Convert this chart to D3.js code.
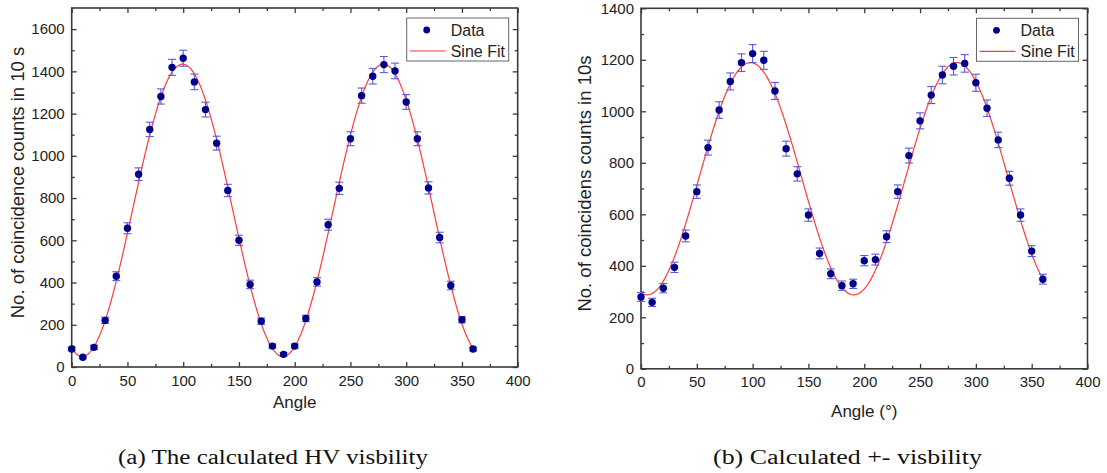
<!DOCTYPE html>
<html>
<head>
<meta charset="utf-8">
<script src="https://cdn.jsdelivr.net/npm/d3@7"></script>
<style>
  html, body { margin: 0; padding: 0; background: #fff; }
  svg { display: block; font-family: "Liberation Sans", Arial, sans-serif; }
  .frame { fill: none; stroke: #3a3a3a; stroke-width: 1.6; }
  .tick line { stroke: #3a3a3a; stroke-width: 1.3; }
  .tick text { fill: #222; font-size: 15px; }
  .domain { display: none; }
</style>
</head>
<body>
<div id="chart"></div>
<script>
// angles (deg) shared by both panels
const angles = [0, 10, 20, 30, 40, 50, 60, 70, 80, 90, 100, 110, 120, 130, 140, 150, 160, 170, 180,
  190, 200, 210, 220, 230, 240, 250, 260, 270, 280, 290, 300, 310, 320, 330, 340, 350, 360]

// (a) HV basis
const countsHV = [85, 46, 93, 221, 430, 657, 913, 1125, 1281, 1419, 1462, 1350, 1219, 1060, 836, 600, 391, 217, 99,
  60, 99, 230, 403, 674, 846, 1081, 1285, 1377, 1432, 1402, 1255, 1081, 848, 613, 386, 224, 85]
const errHV = [9, 7, 10, 15, 21, 26, 30, 34, 36, 38, 38, 37, 35, 33, 29, 24, 20, 15, 10,
  8, 10, 15, 20, 26, 29, 33, 36, 37, 38, 37, 35, 33, 29, 25, 20, 15, 9]
const fitHV = { y0: 742, amp: 692, xc: 99.5, period: 180 }

// (b) +/- basis
const countsPM = [279, 258, 313, 394, 516, 688, 859, 1005, 1116, 1189, 1224, 1198, 1079, 855, 757, 597, 448, 369, 323,
  330, 420, 424, 513, 688, 828, 963, 1063, 1141, 1175, 1186, 1111, 1012, 889, 740, 597, 457, 348]
const errPM = [17, 16, 18, 20, 23, 26, 29, 32, 33, 34, 35, 35, 33, 29, 28, 24, 21, 19, 18,
  18, 20, 21, 23, 26, 29, 31, 33, 34, 34, 34, 33, 32, 30, 27, 24, 21, 19]
const fitPM = { y0: 738, amp: 451, xc: 98, period: 185 }

const xMajor = [0, 50, 100, 150, 200, 250, 300, 350, 400]
const xMinor = [25, 75, 125, 175, 225, 275, 325, 375]
const yMajorHV = [0, 200, 400, 600, 800, 1000, 1200, 1400, 1600]
const yMinorHV = [100, 300, 500, 700, 900, 1100, 1300, 1500]
const yMajorPM = [0, 200, 400, 600, 800, 1000, 1200, 1400]
const yMinorPM = [100, 300, 500, 700, 900, 1100, 1300]
const legendItems = ['Data', 'Sine Fit']

const svg = d3.select('#chart').append('svg')
  .attr('width', 1107)
  .attr('height', 473)

const fmt = d3.format('d')

function panel({
  left, top, width, height,
  yMax, yMajor, yMinor,
  counts, errs, fit,
  yTitle, yTitleX, xTitle, xTitleY,
  caption, captionX, captionLen, fitLegendColor, fitLegendWidth
}) {
  const g = svg.append('g').attr('transform', `translate(${left},${top})`)
  const x = d3.scaleLinear().domain([0, 400]).range([0, width])
  const y = d3.scaleLinear().domain([0, yMax]).range([height, 0])

  // axes, ticks pointing inward
  g.append('g').attr('transform', `translate(0,${height})`)
    .call(d3.axisBottom(x).tickValues(xMajor).tickSize(-5).tickPadding(8).tickFormat(fmt))
  g.append('g').attr('transform', `translate(0,${height})`)
    .call(d3.axisBottom(x).tickValues(xMinor).tickSize(-3).tickFormat(''))
  g.append('g')
    .call(d3.axisTop(x).tickValues(xMajor).tickSize(-5).tickFormat(''))
  g.append('g')
    .call(d3.axisTop(x).tickValues(xMinor).tickSize(-3).tickFormat(''))
  g.append('g')
    .call(d3.axisLeft(y).tickValues(yMajor).tickSize(-5).tickPadding(7).tickFormat(fmt))
  g.append('g')
    .call(d3.axisLeft(y).tickValues(yMinor).tickSize(-3).tickFormat(''))
  g.append('g').attr('transform', `translate(${width},0)`)
    .call(d3.axisRight(y).tickValues(yMajor).tickSize(-5).tickFormat(''))
  g.append('g').attr('transform', `translate(${width},0)`)
    .call(d3.axisRight(y).tickValues(yMinor).tickSize(-3).tickFormat(''))

  g.append('rect').attr('class', 'frame')
    .attr('width', width).attr('height', height)

  // fit curve
  const fx = d3.range(0, 360.5, 1)
  const line = d3.line()
    .x(d => x(d))
    .y(d => y(fit.y0 + fit.amp * Math.cos(2 * Math.PI * (d - fit.xc) / fit.period)))
  g.append('path').datum(fx)
    .attr('d', line)
    .attr('fill', 'none')
    .attr('stroke', '#ff3b3b')
    .attr('stroke-width', 1.2)

  // error bars
  const pts = angles.map((a, i) => ({ a, v: counts[i], e: errs[i] }))
  const eb = g.selectAll('g.err').data(pts).enter().append('g').attr('class', 'err')
    .attr('stroke', '#5a5ad8').attr('stroke-width', 1.1)
  eb.append('line')
    .attr('x1', d => x(d.a)).attr('x2', d => x(d.a))
    .attr('y1', d => y(d.v - d.e)).attr('y2', d => y(d.v + d.e))
  eb.append('line')
    .attr('x1', d => x(d.a) - 4).attr('x2', d => x(d.a) + 4)
    .attr('y1', d => y(d.v - d.e)).attr('y2', d => y(d.v - d.e))
  eb.append('line')
    .attr('x1', d => x(d.a) - 4).attr('x2', d => x(d.a) + 4)
    .attr('y1', d => y(d.v + d.e)).attr('y2', d => y(d.v + d.e))

  g.selectAll('circle.pt').data(pts).enter().append('circle')
    .attr('class', 'pt')
    .attr('cx', d => x(d.a)).attr('cy', d => y(d.v))
    .attr('r', 3.7)
    .attr('fill', '#00008b')

  // legend
  const lg = g.append('g').attr('transform', `translate(${width - 111},10)`)
  lg.append('rect')
    .attr('width', 102).attr('height', 43)
    .attr('fill', '#fff').attr('stroke', '#666').attr('stroke-width', 1)
  lg.selectAll('text').data(legendItems).enter().append('text')
    .attr('x', 44).attr('y', (d, i) => 18 + i * 21)
    .attr('font-size', 16).attr('fill', '#222')
    .text(d => d)
  lg.append('circle').attr('cx', 20).attr('cy', 12).attr('r', 3.4).attr('fill', '#00008b')
  lg.append('line').attr('x1', 3).attr('x2', 39).attr('y1', 33).attr('y2', 33)
    .attr('stroke', fitLegendColor).attr('stroke-width', fitLegendWidth)

  // titles
  svg.append('text')
    .attr('transform', `translate(${yTitleX},${top + height / 2 - 5}) rotate(-90)`)
    .attr('text-anchor', 'middle').attr('font-size', 18.5).attr('fill', '#222')
    .text(yTitle)
  svg.append('text')
    .attr('x', left + width / 2).attr('y', xTitleY)
    .attr('text-anchor', 'middle').attr('font-size', 17).attr('fill', '#222')
    .text(xTitle)
  svg.append('text')
    .attr('x', captionX).attr('y', 464)
    .attr('textLength', captionLen).attr('lengthAdjust', 'spacingAndGlyphs')
    .style('font-family', '"Liberation Serif", "DejaVu Serif", serif')
    .attr('font-size', 20).attr('fill', '#111')
    .text(caption)
}

panel({
  left: 71.7, top: 8, width: 446, height: 359,
  yMax: 1700, yMajor: yMajorHV, yMinor: yMinorHV,
  counts: countsHV, errs: errHV, fit: fitHV,
  yTitle: 'No. of coincidence counts in 10 s', yTitleX: 24,
  xTitle: 'Angle', xTitleY: 408,
  caption: '(a) The calculated HV visbility', captionX: 118, captionLen: 310,
  fitLegendColor: '#ff9a9a', fitLegendWidth: 2
})

panel({
  left: 641, top: 8.3, width: 446.5, height: 360.5,
  yMax: 1400, yMajor: yMajorPM, yMinor: yMinorPM,
  counts: countsPM, errs: errPM, fit: fitPM,
  yTitle: 'No. of coincidens counts in 10s', yTitleX: 591,
  xTitle: 'Angle (°)', xTitleY: 417,
  caption: '(b) Calculated +- visbility', captionX: 713, captionLen: 269,
  fitLegendColor: '#ff3b3b', fitLegendWidth: 1.2
})
</script>
</body>
</html>
